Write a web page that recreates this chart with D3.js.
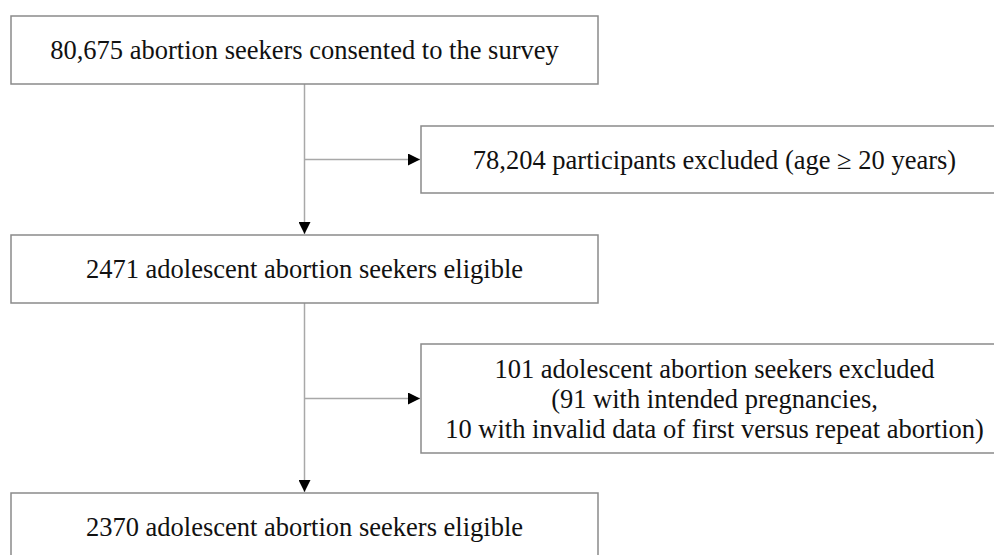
<!DOCTYPE html>
<html>
<head>
<meta charset="utf-8">
<script src="https://cdn.jsdelivr.net/npm/d3@7"></script>
<style>
  body { margin: 0; background: #fff; }
  svg { display: block; }
</style>
</head>
<body>
<svg width="994" height="555"></svg>
<script>
// flow steps (left column) and exclusions (right column)
const mainSteps = [
    ["80,675 abortion seekers consented to the survey"],
    ["2471 adolescent abortion seekers eligible"],
    ["2370 adolescent abortion seekers eligible"]
];
const exclusions = [
    ["78,204 participants excluded (age \u2265 20 years)"],
    ["101 adolescent abortion seekers excluded",
     "(91 with intended pregnancies,",
     "10 with invalid data of first versus repeat abortion)"]
];

const svg = d3.select("svg");

// layout
const boxW = 587;
const mainX = 11;
const exclX = 421;
const mainTop = [16, 235, 493];
const mainH = 68;
const exclTop = [126, 344];
const exclH = [67, 109];
const lineH = 30;
const spineX = mainX + boxW / 2;

const fontFamily = "'Liberation Serif', 'Times New Roman', serif";
const fontSize = 26.5;

svg.append("defs").append("marker")
    .attr("id", "arrow")
    .attr("viewBox", "0 0 12 12")
    .attr("refX", 12)
    .attr("refY", 6)
    .attr("markerWidth", 12)
    .attr("markerHeight", 12)
    .attr("markerUnits", "userSpaceOnUse")
    .attr("orient", "auto")
    .append("path")
    .attr("d", "M0,0 L12,6 L0,12 Z")
    .attr("fill", "#000");

// connectors
const links = svg.append("g");
for (let i = 0; i < mainSteps.length - 1; i++) {
    links.append("line")
        .attr("x1", spineX).attr("y1", mainTop[i] + mainH)
        .attr("x2", spineX).attr("y2", mainTop[i + 1] - 1)
        .attr("stroke", "#a8a8a8")
        .attr("stroke-width", 1.5)
        .attr("marker-end", "url(#arrow)");
    const by = exclTop[i] + exclH[i] / 2;
    links.append("line")
        .attr("x1", spineX).attr("y1", by)
        .attr("x2", exclX - 1).attr("y2", by)
        .attr("stroke", "#a8a8a8")
        .attr("stroke-width", 1.5)
        .attr("marker-end", "url(#arrow)");
}

function drawBox(g, x, y, w, h, lines) {
    g.append("rect")
        .attr("x", x).attr("y", y)
        .attr("width", w).attr("height", h)
        .attr("fill", "#fff")
        .attr("stroke", "#8a8a8a")
        .attr("stroke-width", 1.5);
    const cx = x + w / 2;
    const cy = y + h / 2;
    g.selectAll("text.l").data(lines).enter().append("text")
        .attr("x", cx)
        .attr("y", (d, i) => cy + (i - (lines.length - 1) / 2) * lineH)
        .attr("dy", "0.35em")
        .attr("text-anchor", "middle")
        .attr("font-family", fontFamily)
        .attr("font-size", fontSize)
        .attr("fill", "#111")
        .text(d => d);
}

mainSteps.forEach((lines, i) => {
    drawBox(svg.append("g"), mainX, mainTop[i], boxW, mainH, lines);
});
exclusions.forEach((lines, i) => {
    drawBox(svg.append("g"), exclX, exclTop[i], boxW, exclH[i], lines);
});
</script>
</body>
</html>
